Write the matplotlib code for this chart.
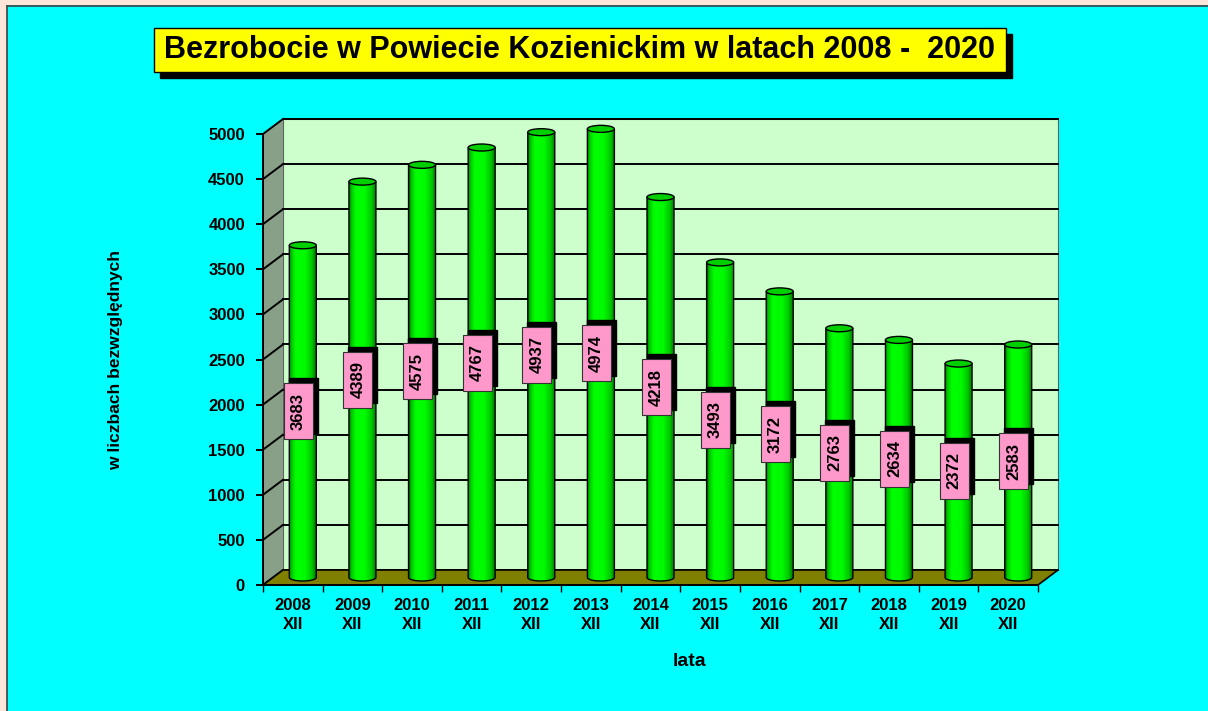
import numpy as np
import matplotlib
matplotlib.use('Agg')
import matplotlib.pyplot as plt
from matplotlib.patches import Rectangle, Polygon, Ellipse, PathPatch
from matplotlib.path import Path

# data
years = ['2008', '2009', '2010', '2011', '2012', '2013', '2014',
         '2015', '2016', '2017', '2018', '2019', '2020']
month = 'XII'
values = [3683, 4389, 4575, 4767, 4937, 4974, 4218, 3493, 3172, 2763, 2634, 2372, 2583]
y_ticks = list(range(0, 5001, 500))

title = 'Bezrobocie w Powiecie Kozienickim w latach 2008 -  2020'
y_label = 'w liczbach bezwzględnych'
x_label = 'lata'

# colours
BG = '#00FFFF'
BACK_WALL = '#CCFFCC'
SIDE_WALL = '#87A087'
FLOOR = '#808000'
PINK = '#FF99CC'

plt.rcParams['font.family'] = ['Liberation Sans', 'DejaVu Sans']

W, H = 1208, 711
fig = plt.figure(figsize=(W / 100, H / 100), dpi=100, facecolor=BG)

n = len(values)
ymax = 5000

# front plane of the 3D box in pixels
left, right, bottom, top = 263, 1038, 585, 134
px_x = n / (right - left)      # data units per pixel
px_y = ymax / (bottom - top)
DX = 20 * px_x                 # depth: 20 px right, 15 px up
DY = 15 * px_y

# axes a bit larger than the front plane so the back wall fits inside it
x_hi = n + DX + 0.05
y_hi = ymax + DY + 30
ax = fig.add_axes([left / W, 1 - bottom / H, x_hi / px_x / W, y_hi / px_y / H])
ax.patch.set_alpha(0)

# walls and floor
side = Polygon([(0, 0), (DX, DY), (DX, ymax + DY), (0, ymax)], closed=True,
               facecolor=SIDE_WALL, edgecolor='none', zorder=0.5)
ax.add_patch(side)
back = Rectangle((DX, DY), n, ymax, facecolor=BACK_WALL, edgecolor='#606060',
                 lw=0.8, zorder=0.4)
ax.add_patch(back)

for v in y_ticks:
    ax.plot([DX, n + DX], [v + DY, v + DY], color='black', lw=1.4, zorder=0.8)
    ax.plot([0, DX], [v, v + DY], color='black', lw=1.4, zorder=0.8)

floor = Polygon([(0, 0), (n, 0), (n + DX, DY), (DX, DY)], closed=True,
                facecolor=FLOOR, edgecolor='black', lw=1.2, zorder=1)
ax.add_patch(floor)

# cylinders
stops = [0.0, 0.07, 0.25, 0.6, 0.85, 1.0]
cols = np.array([[0, 100, 0], [0, 190, 0], [0, 255, 0], [0, 250, 0], [0, 200, 0], [0, 120, 0]]) / 255
tt = np.linspace(0, 1, 80)
grad = np.stack([np.interp(tt, stops, cols[:, k]) for k in range(3)], axis=-1)[np.newaxis, :, :]

cyl_w = 27 * px_x
ell_h = 7 * px_y
base = DY / 2


def draw_cylinder(xc, height, z):
    x0, x1 = xc - cyl_w / 2, xc + cyl_w / 2
    ytop = base + height
    t = np.linspace(0, np.pi, 60)
    arc = list(zip(xc + cyl_w / 2 * np.cos(t), base - ell_h / 2 * np.sin(t)))
    verts = [(x0, base), (x0, ytop), (x1, ytop)] + arc + [(x0, base)]
    codes = [Path.MOVETO] + [Path.LINETO] * (len(verts) - 2) + [Path.CLOSEPOLY]
    body = PathPatch(Path(verts, codes), facecolor='none', edgecolor='black',
                     lw=1.0, zorder=z + 0.1)
    ax.add_patch(body)
    img = ax.imshow(grad, extent=(x0, x1, base - ell_h, ytop), aspect='auto',
                    interpolation='bilinear', zorder=z)
    img.set_clip_path(body)
    cap = Ellipse((xc, ytop), cyl_w, ell_h, facecolor='#00D000', edgecolor='black',
                  lw=1.0, zorder=z + 0.2)
    ax.add_patch(cap)


lab_w = 29 * px_x
lab_h = 56 * px_y
for i, v in enumerate(values):
    xc = i + 0.5 + DX / 2
    draw_cylinder(xc, v, 3 + i * 0.01)
    # value label: pink box with black shadow
    lx = i + 0.5 + 5.5 * px_x
    ly = v / 2 + DY / 2
    ax.add_patch(Rectangle((lx - lab_w / 2 + 5 * px_x, ly - lab_h / 2 + 5 * px_y), lab_w, lab_h,
                           facecolor='black', edgecolor='black', zorder=5))
    ax.add_patch(Rectangle((lx - lab_w / 2, ly - lab_h / 2), lab_w, lab_h,
                           facecolor=PINK, edgecolor='#333333', lw=0.8, zorder=5.1))
    ax.text(lx, ly, str(v), rotation=90, ha='center', va='center', fontsize=12,
            fontweight='bold', zorder=5.2)

ax.set_xlim(0, x_hi)
ax.set_ylim(0, y_hi)

# axes and ticks
for s in ['top', 'right']:
    ax.spines[s].set_visible(False)
for s in ['left', 'bottom']:
    ax.spines[s].set_color('black')
    ax.spines[s].set_linewidth(1.4)
ax.spines['left'].set_bounds(0, ymax)
ax.spines['bottom'].set_bounds(0, n)

ax.set_yticks(y_ticks)
ax.set_yticklabels([str(v) for v in y_ticks], fontsize=12, fontweight='bold')
ax.tick_params(axis='y', direction='out', length=5, width=1.4, pad=8)
ax.set_xticks(np.arange(n) + 0.5)
ax.set_xticklabels([f'{y}\n{month}' for y in years], fontsize=12, fontweight='bold',
                   linespacing=1.35)
ax.set_xticks(np.arange(n + 1), minor=True)
ax.tick_params(axis='x', which='major', length=0, pad=9)
ax.tick_params(axis='x', which='minor', direction='out', length=5, width=1)

fig.text(116 / W, 1 - 360 / H, y_label, rotation=90, ha='center', va='center',
         fontsize=12.5, fontweight='bold')
fig.text(689 / W, 1 - 661 / H, x_label, ha='center', va='center', fontsize=14,
         fontweight='bold')

# title box with shadow
tb_x0, tb_x1, tb_y0, tb_y1 = 154, 1006, 28, 72
fig.patches.append(Rectangle(((tb_x0 + 6) / W, 1 - (tb_y1 + 6) / H), (tb_x1 - tb_x0) / W,
                             (tb_y1 - tb_y0) / H, transform=fig.transFigure,
                             facecolor='black', edgecolor='black', zorder=1))
fig.patches.append(Rectangle((tb_x0 / W, 1 - tb_y1 / H), (tb_x1 - tb_x0) / W,
                             (tb_y1 - tb_y0) / H, transform=fig.transFigure,
                             facecolor='#FFFF00', edgecolor='black', lw=1, zorder=2))
fig.text((tb_x0 + tb_x1) / 2 / W, 1 - 50 / H, title, ha='center', va='center',
         fontsize=22, fontweight='bold', zorder=3)

# peach page border on the left and top
fig.patches.append(Rectangle((0, 0), 7 / W, 1, transform=fig.transFigure,
                             facecolor='#FCE6DA', edgecolor='none', zorder=0))
fig.patches.append(Rectangle((0, 1 - 5 / H), 1, 5 / H, transform=fig.transFigure,
                             facecolor='#FCE6DA', edgecolor='none', zorder=0))
fig.lines.append(plt.Line2D([7.5 / W, 7.5 / W], [0, 1 - 5.5 / H], transform=fig.transFigure,
                            color='#404040', lw=1.2))
fig.lines.append(plt.Line2D([7.5 / W, 1], [1 - 5.5 / H, 1 - 5.5 / H], transform=fig.transFigure,
                            color='#404040', lw=1.2))

fig.savefig('out.png', dpi=100, facecolor=BG)
